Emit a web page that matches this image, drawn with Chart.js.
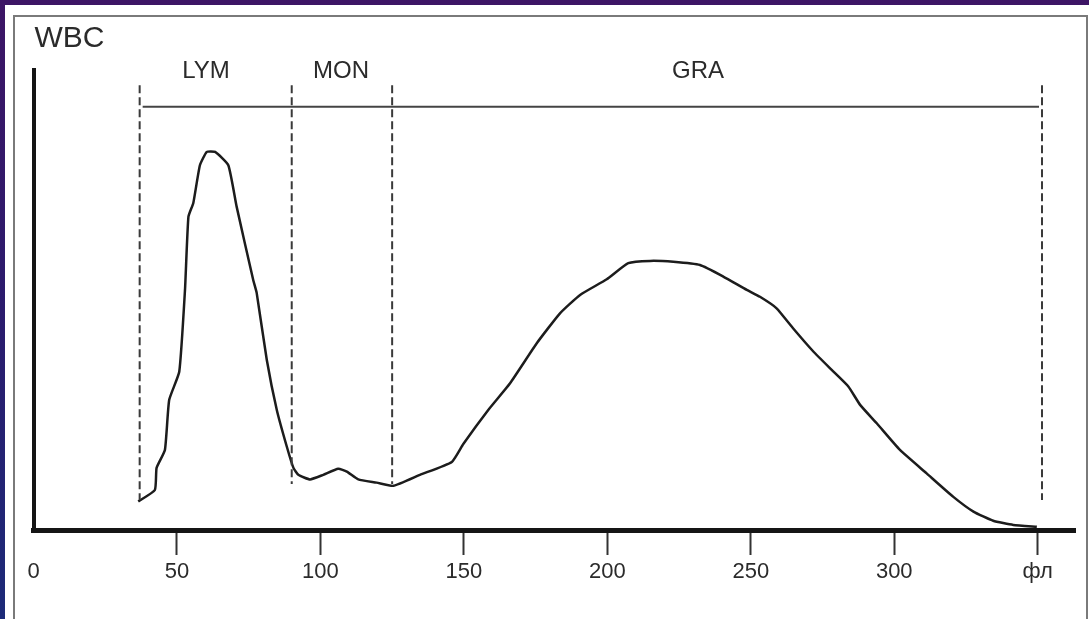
<!DOCTYPE html>
<html>
<head>
<meta charset="utf-8">
<title>WBC</title>
<script src="https://cdn.jsdelivr.net/npm/chart.js@4/dist/chart.umd.min.js"></script>
<style>
  html, body { margin: 0; padding: 0; }
  body {
    width: 1089px; height: 619px; overflow: hidden; position: relative;
    background: linear-gradient(to bottom, #3d1565 0%, #2b1b6d 50%, #1c2a78 100%);
  }
  #panel { position: absolute; left: 5px; top: 5px; width: 1084px; height: 700px; background: #fff; }
  #frame { position: absolute; left: 13px; top: 15px; width: 1071px; height: 700px;
           border: 2px solid #7a7a7a; border-bottom: none; }
  #wrap { position: absolute; left: 0; top: 0; width: 1089px; height: 619px; }
</style>
</head>
<body>
<div id="panel"></div>
<div id="frame"></div>
<div id="wrap"><canvas id="wbc" width="1089" height="619"></canvas></div>
<script>
  // гистограмма WBC: объём (фл) и относительное число клеток
  const volumes = [36.5, 42.3, 42.9, 45.8, 47.3, 50.8, 52.8, 54.0, 55.7, 58.0, 60.4, 63.3, 67.9, 70.8,
    76.6, 77.8, 81.3, 84.8, 88.3, 90.6, 92.3, 96.4, 101.0, 106.2, 109.2, 113.2, 119.6, 125.4,
    134.7, 145.8, 149.8, 158.5, 166.1, 175.4, 183.5, 190.5, 199.8, 207.3, 214.9, 223.0, 232.3,
    240.4, 248.6, 253.2, 259.0, 264.8, 271.8, 278.2, 284.0, 288.1, 293.9, 302.0, 311.3, 320.6,
    327.6, 334.5, 341.5, 349.7];
  const counts = [6.2, 8.7, 13.5, 17.4, 28.3, 34.4, 52.2, 68.1, 71.1, 79.3, 82.2, 82.2, 79.3, 70.3,
    54.3, 51.5, 37.0, 26.1, 18.1, 13.5, 12.0, 11.0, 12.0, 13.3, 12.7, 11.0, 10.3, 9.6,
    12.0, 14.8, 18.7, 26.1, 31.9, 40.6, 47.1, 51.1, 54.5, 58.0, 58.5, 58.3, 57.6,
    55.1, 52.2, 50.7, 48.2, 43.8, 38.8, 34.8, 31.2, 27.2, 23.2, 17.4, 12.3, 7.2,
    4.0, 2.0, 1.1, 0.7];

  // границы зон и подписи
  const bounds = [37, 90, 125, 351.5];
  const boundEnds = [6.5, 10, 10, 6.5];
  const zoneNames = ['LYM', 'MON', 'GRA'];
  const zoneLabelX = [60.1, 107.2, 231.6];
  const xTicks = [0, 50, 100, 150, 200, 250, 300, 350];
  const xTickLabels = ['0', '50', '100', '150', '200', '250', '300', 'фл'];

  const FONT = '"Liberation Sans", Arial, sans-serif';

  // зоны: пунктир, общая линия сверху, названия
  const zonesPlugin = {
    id: 'zones',
    afterDatasetsDraw(chart) {
      const { ctx, scales: { x, y }, chartArea } = chart;
      ctx.save();
      ctx.strokeStyle = '#3a3a3a';
      ctx.lineWidth = 2;
      ctx.setLineDash([8, 4]);
      bounds.forEach((b, i) => {
        const px = x.getPixelForValue(b);
        ctx.beginPath();
        ctx.moveTo(px, y.getPixelForValue(96.7));
        ctx.lineTo(px, y.getPixelForValue(boundEnds[i]));
        ctx.stroke();
      });
      ctx.setLineDash([]);
      ctx.strokeStyle = '#444';
      ctx.beginPath();
      const ly = y.getPixelForValue(92);
      ctx.moveTo(x.getPixelForValue(bounds[0]) + 3, ly);
      ctx.lineTo(x.getPixelForValue(bounds[3]) - 3, ly);
      ctx.stroke();

      ctx.fillStyle = '#2b2b2b';
      ctx.font = '24px ' + FONT;
      ctx.textAlign = 'center';
      ctx.textBaseline = 'middle';
      zoneNames.forEach((n, i) => {
        ctx.fillText(n, x.getPixelForValue(zoneLabelX[i]), y.getPixelForValue(99.6));
      });

      ctx.font = '30px ' + FONT;
      ctx.textAlign = 'left';
      ctx.fillText('WBC', chartArea.left + 1, chartArea.top - 31);
      ctx.restore();
    }
  };

  new Chart(document.getElementById('wbc'), {
    type: 'line',
    data: {
      datasets: [{
        data: volumes.map((v, i) => ({ x: v, y: counts[i] })),
        borderColor: '#1c1c1c',
        borderWidth: 2.5,
        pointRadius: 0,
        fill: false,
        tension: 0.15
      }]
    },
    options: {
      responsive: false,
      animation: false,
      layout: { padding: { left: 33.5, right: 14, top: 70, bottom: 29 } },
      plugins: { legend: { display: false }, tooltip: { enabled: false } },
      scales: {
        x: {
          type: 'linear',
          min: 0,
          max: 363,
          afterBuildTicks: s => { s.ticks = xTicks.map(v => ({ value: v })); },
          afterFit: s => { s.height = 60; },
          ticks: {
            color: '#2b2b2b',
            font: { size: 22, family: FONT },
            padding: 4,
            maxRotation: 0,
            autoSkip: false,
            callback: (v) => xTickLabels[xTicks.indexOf(v)]
          },
          grid: {
            drawOnChartArea: false,
            tickLength: 25,
            tickWidth: 2,
            tickColor: c => (c.tick && c.tick.value === 0) ? 'rgba(0,0,0,0)' : '#333'
          },
          border: { display: true, width: 5, color: '#151515' }
        },
        y: {
          min: 0,
          max: 100,
          afterFit: s => { s.width = 0; },
          ticks: { display: false },
          grid: { display: false },
          border: { display: true, width: 4, color: '#151515' }
        }
      }
    },
    plugins: [zonesPlugin]
  });
</script>
</body>
</html>
